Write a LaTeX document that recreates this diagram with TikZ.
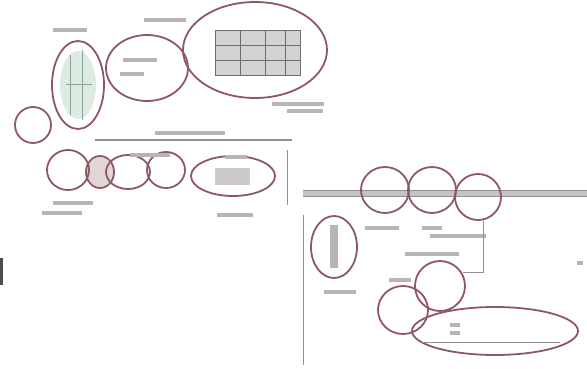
\documentclass[tikz,border=0pt]{standalone}
\usetikzlibrary{shapes.geometric}
\definecolor{rim}{RGB}{140,88,98}
\definecolor{bartone}{RGB}{185,180,182}
\definecolor{leaf}{RGB}{170,205,185}
\tikzset{
  blob/.style={ellipse, draw=rim, line width=1.8pt, inner sep=0pt},
  rail/.style={draw=bartone!80!black, line width=0.8pt},
}
\newcommand{\tbar}[3]{\fill[bartone] (#1-#3/2,#2-1.6) rectangle (#1+#3/2,#2+1.6);}

\begin{document}
\begin{tikzpicture}[x=1pt,y=-1pt]
\useasboundingbox (0,0) rectangle (587,369);
\fill[leaf!40] (78,85) ellipse (18 and 34);
\draw[leaf!80!black, line width=1pt] (70,55) -- (70,115) (82,50) -- (82,120) (66,85) -- (92,85);
\node[blob, minimum width=52, minimum height=88] (tall) at (78,85) {};
\node[blob, minimum width=82, minimum height=66] (mid) at (147,68) {};
\fill[bartone!60] (215,30) rectangle (300,75);
\draw[bartone!60!black, line width=0.8pt] (215,30) rectangle (300,75) (240,30) -- (240,75) (265,30) -- (265,75) (285,30) -- (285,75) (215,45) -- (300,45) (215,60) -- (300,60);
\node[blob, minimum width=144, minimum height=96] (table) at (255,50) {};
\node[blob, minimum width=36, minimum height=36] (dot) at (33,125) {};
\tbar{70}{30}{34}
\tbar{165}{20}{42}
\tbar{140}{60}{34}
\tbar{132}{74}{24}
\tbar{298}{104}{52}
\tbar{305}{111}{36}
\coordinate (railw) at (95,140);
\coordinate (raile) at (292,140);
\draw[rail, line width=2pt] (railw) -- (raile);
\tbar{190}{133}{70}
\fill[rim!25] (100,172) ellipse (13 and 15);
\node[blob, minimum width=42, minimum height=40] (e1) at (68,170) {};
\node[blob, minimum width=28, minimum height=32] (e2) at (100,172) {};
\node[blob, minimum width=44, minimum height=34] (e3) at (128,172) {};
\node[blob, minimum width=38, minimum height=36] (e4) at (166,170) {};
\fill[bartone!70] (215,168) rectangle (250,185);
\node[blob, minimum width=84, minimum height=40] (e5) at (233,176) {};
\tbar{150}{155}{40}
\tbar{236}{157}{22}
\tbar{73}{203}{40}
\tbar{62}{213}{40}
\tbar{235}{215}{36}
\coordinate (vtop) at (287,150);
\coordinate (vmid) at (287,205);
\draw[rail] (vtop) -- (vmid);
\coordinate (vlow) at (303,215);
\coordinate (vend) at (303,365);
\draw[rail] (vlow) -- (vend);
\coordinate (bandw) at (303,193);
\coordinate (bande) at (587,193);
\fill[bartone!80] (303,190) rectangle (587,196);
\draw[rail] (303,190) -- (587,190) (303,196) -- (587,196);
\node[blob, minimum width=48, minimum height=46] (c1) at (385,190) {};
\node[blob, minimum width=48, minimum height=46] (c2) at (432,190) {};
\node[blob, minimum width=46, minimum height=46] (c3) at (478,197) {};
\tbar{382}{228}{34}
\tbar{432}{228}{20}
\tbar{458}{236}{56}
\fill[bartone] (330,225) rectangle (338,268);
\node[blob, minimum width=46, minimum height=62] (pill) at (334,247) {};
\tbar{340}{292}{32}
\tbar{432}{254}{54}
\coordinate (bend) at (483,272);
\draw[rail] (c3.south) ++(5,0) |- (bend) -- ++(-20,0);
\node[blob, minimum width=50, minimum height=50] (n1) at (440,286) {};
\node[blob, minimum width=50, minimum height=48] (n2) at (403,310) {};
\node[blob, minimum width=166, minimum height=48] (long) at (495,331) {};
\tbar{400}{280}{22}
\tbar{455}{325}{10}
\tbar{455}{333}{10}
\draw[rail] (420,342) -- (560,342);
\tbar{580}{263}{6}
\fill[black!70] (0,258) rectangle (3,285);
\end{tikzpicture}
\end{document}
